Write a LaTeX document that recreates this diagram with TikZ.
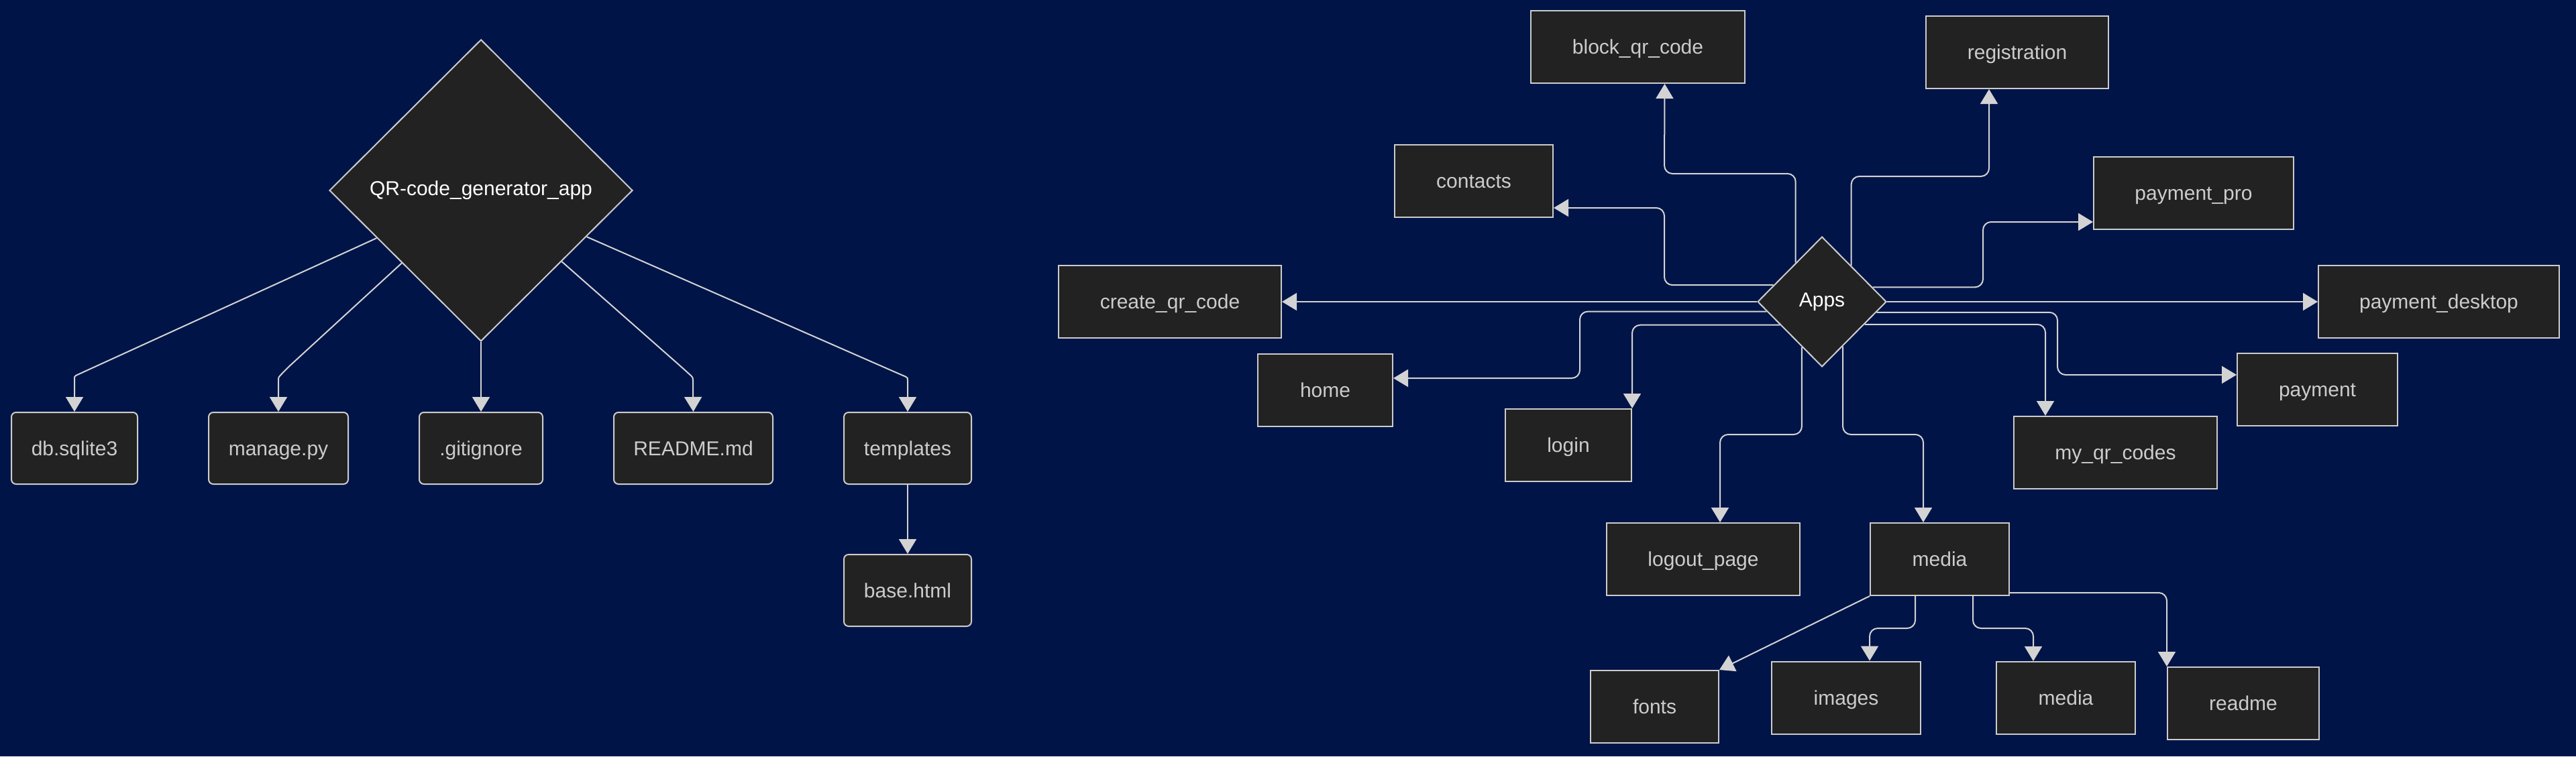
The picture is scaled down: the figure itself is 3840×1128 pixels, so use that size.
\documentclass[tikz,border=0pt]{standalone}
\usepackage{fontspec}
\setmainfont{Liberation Sans}
\usetikzlibrary{shapes.geometric,arrows.meta}
\definecolor{navy}{RGB}{0,20,71}
\definecolor{boxfill}{RGB}{33,34,33}
\definecolor{edgegray}{RGB}{211,211,211}
\definecolor{textgray}{RGB}{204,204,204}
\begin{document}
\begin{tikzpicture}[x=1pt,y=-1pt,
box/.style={draw=textgray, fill=boxfill, line width=2pt, text=textgray, minimum height=108, inner sep=0pt, text height=21pt, text depth=0pt, font=\fontsize{30}{36}\selectfont},
file/.style={box, rounded corners=7pt, minimum height=107},
decision/.style={diamond, draw=textgray, fill=boxfill, line width=2pt, text=white, inner sep=0pt, font=\fontsize{30}{36}\selectfont},
arr/.style={draw=edgegray, line width=2pt, -{Triangle[length=22pt,width=26pt]}, rounded corners=12pt}]

\fill[navy] (0,0) rectangle (3840,1128);

\node[decision, minimum width=452, minimum height=450] (qr) at (717,284) {QR-code\_generator\_app};
\node[file, minimum width=188] (db) at (111,668.5) {db.sqlite3};
\node[file, minimum width=208] (manage) at (415,668.5) {manage.py};
\node[file, minimum width=184] (git) at (717,668.5) {.gitignore};
\node[file, minimum width=237] (readmemd) at (1033.5,668.5) {README.md};
\node[file, minimum width=190] (tmpl) at (1353,668.5) {templates};
\node[file, minimum width=190] (base) at (1353,880.5) {base.html};

\draw[arr] (qr) -- (124,555) .. controls (111,561) .. (111,582) -- (db.north);
\draw[arr] (qr) -- (426,551) .. controls (415,563) .. (415,582) -- (manage.north);
\draw[arr] (qr.south) -- (git.north);
\draw[arr] (qr) -- (1020,551) .. controls (1033,563) .. (1033,582) -- (readmemd.north);
\draw[arr] (qr) -- (1339,557) .. controls (1353,563) .. (1353,582) -- (tmpl.north);
\draw[arr] (tmpl) -- (base);

\node[decision, minimum width=192, minimum height=194] (apps) at (2716,450) {Apps};
\node[box, minimum width=319] (blk) at (2441.5,70) {block\_qr\_code};
\node[box, minimum width=272] (reg) at (3007,78) {registration};
\node[box, minimum width=236] (cont) at (2197,270) {contacts};
\node[box, minimum width=298] (ppro) at (3270,288) {payment\_pro};
\node[box, minimum width=332] (cqr) at (1744,450) {create\_qr\_code};
\node[box, minimum width=359] (pdesk) at (3635.5,450) {payment\_desktop};
\node[box, minimum width=201] (home) at (1975.5,581.5) {home};
\node[box, minimum width=239] (pay) at (3454.5,580.5) {payment};
\node[box, minimum width=188] (login) at (2338,664) {login};
\node[box, minimum width=303] (myqr) at (3153.5,675) {my\_qr\_codes};
\node[box, minimum width=288] (logout) at (2539,834) {logout\_page};
\node[box, minimum width=207] (media) at (2891.5,834) {media};
\node[box, minimum width=191] (fonts) at (2466.5,1054) {fonts};
\node[box, minimum width=222] (images) at (2752,1040.5) {images};
\node[box, minimum width=207] (media2) at (3079.5,1041) {media};
\node[box, minimum width=226] (readme) at (3344,1049) {readme};

\draw[arr] (apps.124) |- (2481,259) -- ([xshift=40]blk.south);
\draw[arr] (apps.161.6) -| (2481,310) -- ([yshift=-40]cont.east);
\draw[arr] (apps.west) -- (cqr.east);
\draw[arr] (apps.190.5) -| (2355,564) -- ([yshift=17.5]home.east);
\draw[arr] (apps.209.7) -| (login.north east);
\draw[arr] (apps.246.8) |- (2564,648) -- ([xshift=25]logout.north);
\draw[arr] (apps.295.3) |- (2867,648) -- ([xshift=-24.5]media.north);
\draw[arr] (apps.16.5) -| (2956,331) -- ([yshift=-43]ppro.west);
\draw[arr] (apps.51.3) |- (2965,263) -- ([xshift=-42]reg.south);
\draw[arr] (apps.east) -- (pdesk.west);
\draw[arr] (apps.349.5) -| (3067,559) -- ([yshift=21.5]pay.west);
\draw[arr] (apps.332.5) -| ([xshift=-104.5]myqr.north);

\draw[arr] (media.south west) -- (fonts.north east);
\draw[arr] ([xshift=-36.5]media.south) |- (2787,937) -- ([xshift=35]images.north);
\draw[arr] ([xshift=49.5]media.south) |- (3031,937) -- ([xshift=-48.5]media2.north);
\draw[arr] ([yshift=5]media.south east) -| (readme.north west);

\end{tikzpicture}
\end{document}
